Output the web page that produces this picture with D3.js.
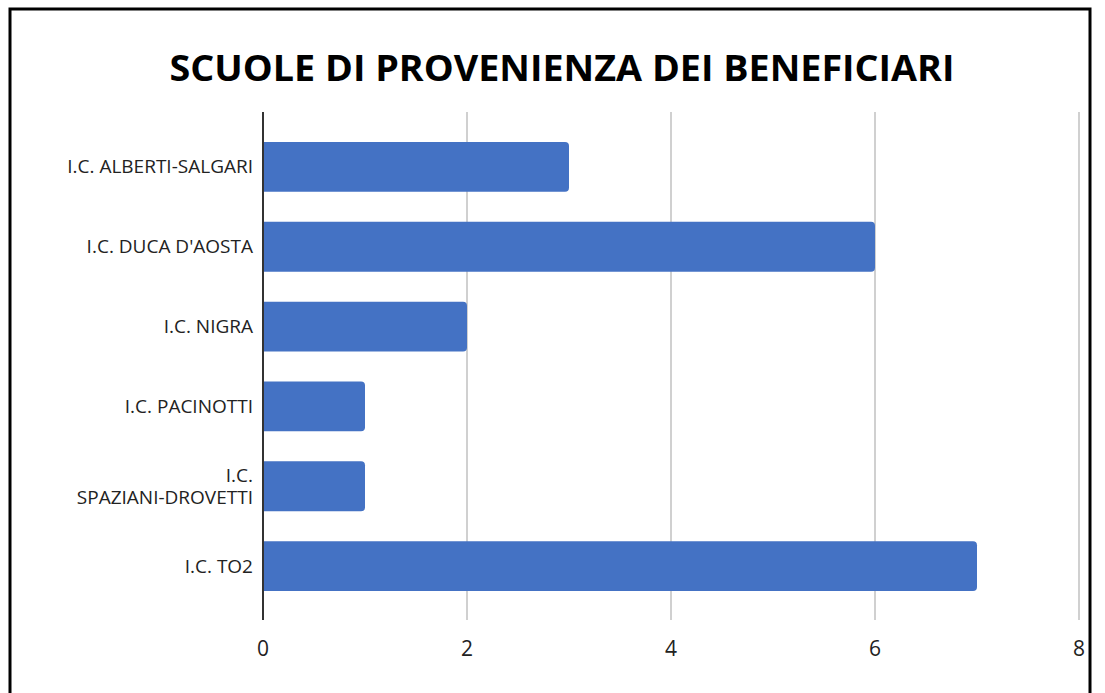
<!DOCTYPE html>
<html>
<head>
<meta charset="utf-8">
<script src="https://cdn.jsdelivr.net/npm/d3@7"></script>
<style>
  body { margin: 0; background: #fff; }
  svg { display: block; }
</style>
</head>
<body>
<script>
// dati del grafico
const scuole = [
  "I.C. ALBERTI-SALGARI",
  "I.C. DUCA D'AOSTA",
  "I.C. NIGRA",
  "I.C. PACINOTTI",
  "I.C. SPAZIANI-DROVETTI",
  "I.C. TO2"
];
const beneficiari = [3, 6, 2, 1, 1, 7];
const xTicks = [0, 2, 4, 6, 8];
const titolo = "SCUOLE DI PROVENIENZA DEI BENEFICIARI";

const width = 1105;
const height = 693;
const font = "Open Sans, Liberation Sans, sans-serif";

const data = scuole.map((s, i) => ({ scuola: s, valore: beneficiari[i] }));

const svg = d3.select("body").append("svg")
  .attr("width", width)
  .attr("height", height);

// cornice
svg.append("rect")
  .attr("x", 10).attr("y", 9)
  .attr("width", 1080).attr("height", 700)
  .attr("fill", "#fff")
  .attr("stroke", "#000")
  .attr("stroke-width", 3);

// titolo
svg.append("text")
  .attr("x", 562).attr("y", 81)
  .attr("text-anchor", "middle")
  .attr("textLength", 785)
  .attr("lengthAdjust", "spacingAndGlyphs")
  .style("font-family", font)
  .style("font-weight", "bold")
  .style("font-size", "36px")
  .style("fill", "#000")
  .text(titolo);

const x = d3.scaleLinear().domain([0, 8]).range([263, 1079]);
const y = d3.scaleBand().domain(scuole).range([127, 606]).paddingInner(0.375).paddingOuter(0.1875);

// griglia verticale
svg.append("g")
  .selectAll("line")
  .data(xTicks.filter(d => d > 0))
  .enter()
  .append("line")
  .attr("x1", d => x(d)).attr("x2", d => x(d))
  .attr("y1", 112).attr("y2", 620)
  .attr("stroke", "#d0d0d0")
  .attr("stroke-width", 2);

// barre (angoli arrotondati a destra)
svg.append("g")
  .selectAll("path")
  .data(data)
  .enter()
  .append("path")
  .attr("fill", "#4472C4")
  .attr("d", d => {
    const x0 = x(0), x1 = x(d.valore), y0 = y(d.scuola), h = y.bandwidth(), r = 4;
    return `M${x0},${y0}H${x1 - r}Q${x1},${y0} ${x1},${y0 + r}V${y0 + h - r}Q${x1},${y0 + h} ${x1 - r},${y0 + h}H${x0}Z`;
  });

// asse verticale
svg.append("line")
  .attr("x1", x(0)).attr("x2", x(0))
  .attr("y1", 112).attr("y2", 620)
  .attr("stroke", "#333")
  .attr("stroke-width", 2);

// etichette categorie
const labels = svg.append("g")
  .selectAll("text")
  .data(data)
  .enter()
  .append("text")
  .attr("text-anchor", "end")
  .style("font-family", font)
  .style("font-size", "19px")
  .style("fill", "#222");

labels.each(function (d) {
  const t = d3.select(this);
  const cy = y(d.scuola) + y.bandwidth() / 2;
  // etichetta lunga su due righe come nell'originale
  const righe = d.scuola.length > 21 ? ["I.C.", d.scuola.slice(5)] : [d.scuola];
  righe.forEach((r, i) => {
    t.append("tspan")
      .attr("x", 253)
      .attr("y", cy + 6.5 + (i - (righe.length - 1) / 2) * 22)
      .text(r);
  });
});

// etichette asse x
svg.append("g")
  .selectAll("text")
  .data(xTicks)
  .enter()
  .append("text")
  .attr("x", d => x(d))
  .attr("y", 656)
  .attr("text-anchor", "middle")
  .style("font-family", font)
  .style("font-size", "21px")
  .style("fill", "#222")
  .text(d => d);
</script>
</body>
</html>
